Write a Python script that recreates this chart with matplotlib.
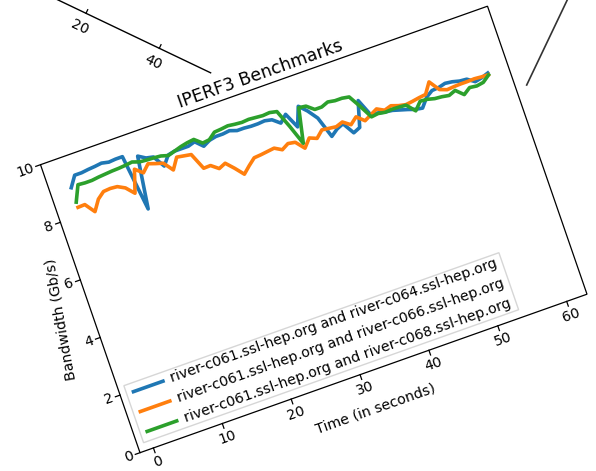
import numpy as np
import matplotlib
matplotlib.use('Agg')
import matplotlib.pyplot as plt
from matplotlib.transforms import Affine2D
from matplotlib.patches import Polygon

# iperf3 throughput per second, Gb/s
seconds = list(range(1, 61))
c064 = [8.95, 9.30, 9.30, 9.33, 9.35, 9.38, 9.33, 9.35, 9.35, 7.45,
        9.20, 9.05, 9.00, 8.60, 8.90, 8.95, 8.95, 8.95, 9.02, 8.78,
        8.90, 8.95, 8.95, 8.98, 8.90, 8.90, 8.88, 8.88, 8.90, 8.85,
        8.65, 8.87, 8.35, 8.98, 8.73, 8.40, 7.68, 7.85, 7.95, 7.55,
        7.65, 8.50, 7.92, 7.90, 7.85, 7.82, 7.75, 7.68, 7.60, 7.56,
        7.85, 8.00, 8.02, 8.08, 8.05, 7.99, 7.97, 7.80, 7.85, 7.93]
c066 = [8.27, 8.28, 7.95, 8.30, 8.48, 8.50, 8.48, 8.35, 8.08, 8.83,
        8.62, 8.85, 8.77, 8.70, 8.38, 8.74, 8.70, 8.66, 8.10, 8.11,
        7.92, 8.02, 7.76, 7.47, 7.68, 7.87, 7.89, 7.92, 7.95, 7.81,
        7.94, 7.90, 7.61, 7.88, 7.78, 7.99, 7.96, 7.93, 8.01, 7.83,
        8.02, 7.80, 7.92, 8.04, 7.91, 7.98, 7.90, 7.85, 7.88, 7.92,
        7.95, 8.30, 7.95, 7.86, 7.88, 7.89, 7.89, 7.90, 7.88, 7.87]
c068 = [8.45, 8.97, 8.95, 8.95, 8.98, 9.00, 9.02, 9.03, 9.05, 9.08,
        9.00, 8.98, 8.97, 8.95, 8.88, 8.95, 9.02, 9.07, 9.10, 8.89,
        8.92, 9.10, 9.12, 9.15, 9.12, 9.10, 9.12, 9.10, 9.08, 9.10,
        9.05, 8.45, 7.78, 8.93, 8.90, 8.70, 8.70, 8.79, 8.75, 8.75,
        8.71, 8.30, 7.85, 7.88, 7.84, 7.86, 7.85, 7.83, 7.55, 7.80,
        7.78, 7.72, 7.70, 7.66, 7.75, 7.52, 7.68, 7.65, 7.69, 7.86]
series = [c064, c066, c068]
labels = ['river-c061.ssl-hep.org and river-c064.ssl-hep.org',
          'river-c061.ssl-hep.org and river-c066.ssl-hep.org',
          'river-c061.ssl-hep.org and river-c068.ssl-hep.org']
colors = ['#1f77b4', '#ff7f0e', '#2ca02c']
xticks = [0, 10, 20, 30, 40, 50, 60]
yticks = [0, 2, 4, 6, 8, 10]
ylo, yhi = 0, 10

# piece of a neighbouring chart's axis, top left
other_ticks = [20, 40]

W, H = 596, 471
fig = plt.figure(figsize=(W / 100, H / 100), dpi=100)
ax = fig.add_axes([0, 0, 1, 1])
ax.set_xlim(0, W)
ax.set_ylim(H, 0)
ax.axis('off')

# the screenshot is tilted: axes fraction (u, v) -> pixel
corner = np.array([140.0, 452.7])
A = np.array([447.0, -158.5])    # bottom spine
B = np.array([-99.5, -288.0])    # left spine
frame = Affine2D.from_values(A[0], A[1], B[0], B[1], corner[0], corner[1])
to_px = frame + ax.transData
uA = A / np.hypot(*A)
uB = B / np.hypot(*B)
rot = np.degrees(np.arctan2(-A[1], A[0]))


def fr(u, v):
    return corner + u * A + v * B


# default 5% x margins
span = max(seconds) - min(seconds)
xlo, xhi = min(seconds) - 0.05 * span, max(seconds) + 0.05 * span
data_tr = Affine2D().translate(-xlo, -ylo).scale(1 / (xhi - xlo), 1 / (yhi - ylo)) + to_px

fs = 10.2
lw = 2.6

for vals, col in zip(series, colors):
    ax.plot(seconds, vals, color=col, lw=lw, transform=data_tr)

ax.add_patch(Polygon([(0, 0), (1, 0), (1, 1), (0, 1)], closed=True, fill=False,
                     ec='black', lw=0.9, transform=to_px))

# y ticks
for t in yticks:
    p = fr(0, (t - ylo) / (yhi - ylo))
    q = p - 5 * uA
    ax.plot([p[0], q[0]], [p[1], q[1]], color='black', lw=0.9)
    lp = p - 7.5 * uA
    ax.text(lp[0], lp[1], str(t), ha='right', va='center', rotation=rot,
            rotation_mode='anchor', fontsize=fs)

# x ticks
for t in xticks:
    p = fr((t - xlo) / (xhi - xlo), 0)
    q = p - 5 * uB
    ax.plot([p[0], q[0]], [p[1], q[1]], color='black', lw=0.9)
    lp = p - 7.5 * uB
    ax.text(lp[0], lp[1], str(t), ha='center', va='top', rotation=rot,
            rotation_mode='anchor', fontsize=fs)

# title and axis labels
p = fr(0.5, 1) + 7 * uB
ax.text(p[0], p[1], 'IPERF3 Benchmarks', ha='center', va='baseline', rotation=rot,
        rotation_mode='anchor', fontsize=12.5)
p = fr(0.5, 0) - 37 * uB
ax.text(p[0], p[1], 'Time (in seconds)', ha='center', va='center', rotation=rot,
        rotation_mode='anchor', fontsize=fs)
p = fr(0, 0.5) - 31 * uA
ax.text(p[0], p[1], 'Bandwidth (Gb/s)', ha='center', va='center', rotation=100,
        rotation_mode='anchor', fontsize=fs)

# legend, lower left
ax.add_patch(Polygon([(0.014, 0.027), (0.853, 0.027), (0.853, 0.225), (0.014, 0.225)],
                     closed=True, fc='white', ec='#cccccc', lw=1, alpha=0.8,
                     transform=to_px, zorder=4))
rows = [0.196, 0.127, 0.058]
for v, lab, col in zip(rows, labels, colors):
    ax.plot([0.029, 0.095], [v, v], color=col, lw=lw, transform=to_px, zorder=5)
    p = fr(0.112, v)
    ax.text(p[0], p[1], lab, ha='left', va='center', rotation=rot,
            rotation_mode='anchor', fontsize=fs, zorder=5)

# fragments of neighbouring charts
o0 = np.array([12.7, -21.7])
od = np.array([3.665, 1.75])
on = np.array([od[1], -od[0]]) / np.hypot(*od)
orot = np.degrees(np.arctan2(-od[1], od[0]))
ends = [o0 + 10 * od, o0 + 54 * od]
ax.plot([ends[0][0], ends[1][0]], [ends[0][1], ends[1][1]], color='black', lw=1.0)
for t in other_ticks:
    p = o0 + t * od
    q = p + 4 * on
    ax.plot([p[0], q[0]], [p[1], q[1]], color='black', lw=0.9)
    lp = p - 8 * on
    ax.text(lp[0], lp[1], str(t), ha='center', va='top', rotation=orot,
            rotation_mode='anchor', fontsize=fs)
ax.plot([572, 526.7], [-10, 85], color='#333333', lw=1.2)

fig.savefig('out.png', dpi=100)
